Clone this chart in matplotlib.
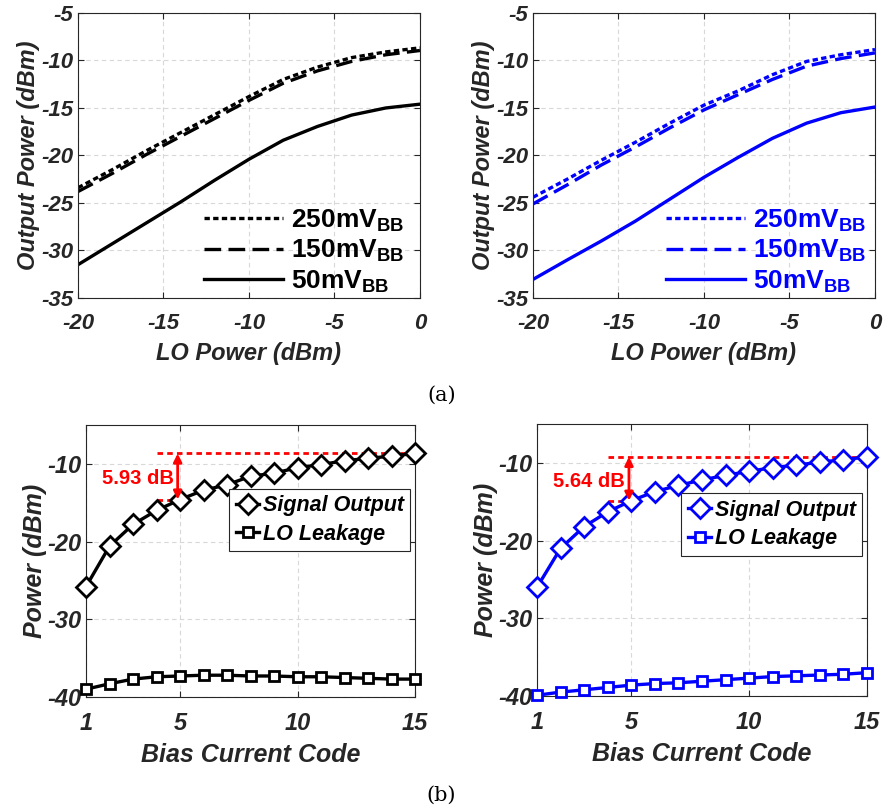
import matplotlib
matplotlib.use("Agg")
import matplotlib.pyplot as plt
from matplotlib import font_manager

# pick a narrow Arial-like face if we have one
names = {f.name for f in font_manager.fontManager.ttflist}
FONT = "Liberation Sans Narrow" if "Liberation Sans Narrow" in names else "Liberation Sans"
plt.rcParams['font.family'] = [FONT, 'DejaVu Sans']
plt.rcParams['axes.unicode_minus'] = False
plt.rcParams['mathtext.fontset'] = 'custom'
plt.rcParams['mathtext.rm'] = FONT + ':bold'
plt.rcParams['mathtext.bf'] = FONT + ':bold'

# (a) output power vs LO power
lo_power = [-20, -18, -16, -14, -12, -10, -8, -6, -4, -2, 0]
a_left_250 = [-23.4, -21.5, -19.5, -17.6, -15.7, -13.8, -12.0, -10.7, -9.7, -9.1, -8.67]
a_left_150 = [-23.8, -21.9, -19.9, -18.0, -16.1, -14.2, -12.4, -11.1, -10.1, -9.4, -8.95]
a_left_50 = [-31.5, -29.3, -27.1, -24.9, -22.6, -20.4, -18.4, -16.95, -15.75, -15.0, -14.6]
a_right_250 = [-24.4, -22.5, -20.5, -18.6, -16.6, -14.7, -13.2, -11.5, -10.1, -9.4, -8.85]
a_right_150 = [-25.1, -23.1, -21.0, -19.1, -17.1, -15.2, -13.6, -12.0, -10.6, -9.8, -9.2]
a_right_50 = [-33.05, -31.0, -29.0, -26.9, -24.6, -22.3, -20.2, -18.2, -16.6, -15.5, -14.9]
a_labels = [r'250mV$_{\mathbf{BB}}$', r'150mV$_{\mathbf{BB}}$', r'50mV$_{\mathbf{BB}}$']

# (b) power vs bias current code
codes = list(range(1, 16))
b_left_sig = [-25.8, -20.6, -17.8, -16.0, -14.6, -13.4, -12.7, -11.6, -11.2, -10.5,
              -10.1, -9.6, -9.3, -9.0, -8.67]
b_left_lo = [-39.0, -38.3, -37.7, -37.4, -37.3, -37.2, -37.2, -37.3, -37.3, -37.4,
             -37.4, -37.5, -37.6, -37.7, -37.7]
b_right_sig = [-26.0, -21.0, -18.2, -16.3, -14.87, -13.7, -12.9, -12.2, -11.6, -11.1,
               -10.6, -10.3, -9.9, -9.6, -9.23]
b_right_lo = [-39.9, -39.5, -39.2, -38.9, -38.6, -38.4, -38.3, -38.1, -37.9, -37.7,
              -37.5, -37.4, -37.3, -37.2, -37.0]
b_gap_left = "5.93 dB"
b_gap_right = "5.64 dB"


def style_axes(ax, tick_size):
    ax.grid(True, linestyle=(0, (4, 3)), color='#d8d8d8', linewidth=0.8)
    ax.set_axisbelow(True)
    ax.tick_params(direction='in', top=True, right=True, length=4, width=0.8,
                   colors='#262626')
    ax.tick_params(axis='x', pad=10.5)
    ax.tick_params(axis='y', pad=3.5)
    for lab in ax.get_xticklabels() + ax.get_yticklabels():
        lab.set_fontsize(tick_size)
        lab.set_fontweight('bold')
        lab.set_fontstyle('italic')
    for s in ax.spines.values():
        s.set_linewidth(0.8)
        s.set_color('#262626')


def plot_a(ax, c, y250, y150, y50, leg_x):
    ax.plot(lo_power, y250, color=c, lw=2.4, ls=(0, (1.6, 1.0)))
    ax.plot(lo_power, y150, color=c, lw=2.4, ls=(0, (5, 2.2)))
    ax.plot(lo_power, y50, color=c, lw=2.4, ls='-')
    ax.set_xlim(-20, 0)
    ax.set_ylim(-35, -5)
    ax.set_xticks([-20, -15, -10, -5, 0])
    ax.set_yticks([-35, -30, -25, -20, -15, -10, -5])
    style_axes(ax, 16)
    lf = dict(fontsize=17, fontweight='bold', fontstyle='italic', color='#262626')
    ax.set_xlabel('LO Power (dBm)', labelpad=6, **lf)
    ax.set_ylabel('Output Power (dBm)', labelpad=1, **lf)
    leg = ax.legend(a_labels, loc='lower right', bbox_to_anchor=(leg_x, -0.045),
                    frameon=False, handlelength=3.0, handletextpad=0.3,
                    labelspacing=0.15, borderaxespad=0.2,
                    prop=dict(family=FONT, weight='bold', size=19))
    for t in leg.get_texts():
        t.set_color(c)


def plot_b(ax, c, sig, lo, gap, leg_top):
    ax.plot(codes, sig, color=c, lw=2.4, marker='D', ms=10, mfc='white', mew=2,
            clip_on=False, zorder=3, label='Signal Output')
    ax.plot(codes, lo, color=c, lw=2.4, marker='s', ms=7.5, mfc='white', mew=2,
            clip_on=False, zorder=3, label='LO Leakage')
    ax.set_xlim(1, 15)
    ax.set_ylim(-40, -5)
    ax.set_xticks([1, 5, 10, 15])
    ax.set_yticks([-40, -30, -20, -10])
    style_axes(ax, 17)
    lf = dict(fontsize=18, fontweight='bold', fontstyle='italic', color='#262626')
    ax.set_xlabel('Bias Current Code', labelpad=6, **lf)
    ax.set_ylabel('Power (dBm)', labelpad=0, **lf)
    top, low = sig[-1], sig[4]
    ax.plot([4, 15], [top, top], color='red', lw=2, ls=(0, (2, 1.5)), zorder=2)
    ax.plot([4, 5], [low, low], color='red', lw=2, ls=(0, (2, 1.5)), zorder=2)
    ax.annotate('', xy=(4.9, top), xytext=(4.9, low),
                arrowprops=dict(arrowstyle='<|-|>', color='red', lw=2,
                                mutation_scale=12, shrinkA=0, shrinkB=0))
    ax.text(3.2, (top + low) / 2 - 0.3, gap, color='red', fontsize=14.5,
            fontweight='bold', ha='center', va='center')
    leg = ax.legend(loc='upper right', bbox_to_anchor=(0.985, leg_top), fancybox=False,
                    edgecolor='#262626', framealpha=1, handlelength=1.1,
                    handletextpad=0.15, labelspacing=0.35, borderpad=0.3,
                    borderaxespad=0,
                    prop=dict(family=FONT, weight='bold', style='italic', size=15.5))
    leg.get_frame().set_linewidth(0.8)


fig = plt.figure(figsize=(8.83, 8.11), dpi=100)
ax1 = fig.add_axes([0.0883, 0.6326, 0.3873, 0.3514])
ax2 = fig.add_axes([0.6036, 0.6326, 0.3873, 0.3514])
ax3 = fig.add_axes([0.0974, 0.1406, 0.3726, 0.3354])
ax4 = fig.add_axes([0.6082, 0.1418, 0.3737, 0.3354])

plot_a(ax1, 'black', a_left_250, a_left_150, a_left_50, 1.0)
plot_a(ax2, 'blue', a_right_250, a_right_150, a_right_50, 1.02)
plot_b(ax3, 'black', b_left_sig, b_left_lo, b_gap_left, 0.765)
plot_b(ax4, 'blue', b_right_sig, b_right_lo, b_gap_right, 0.746)

fig.text(0.5, 1 - 395 / 811, '(a)', family='DejaVu Serif', fontsize=15,
         ha='center', va='center')
fig.text(0.5, 1 - 795 / 811, '(b)', family='DejaVu Serif', fontsize=15,
         ha='center', va='center')

fig.savefig('out.png', dpi=100)
